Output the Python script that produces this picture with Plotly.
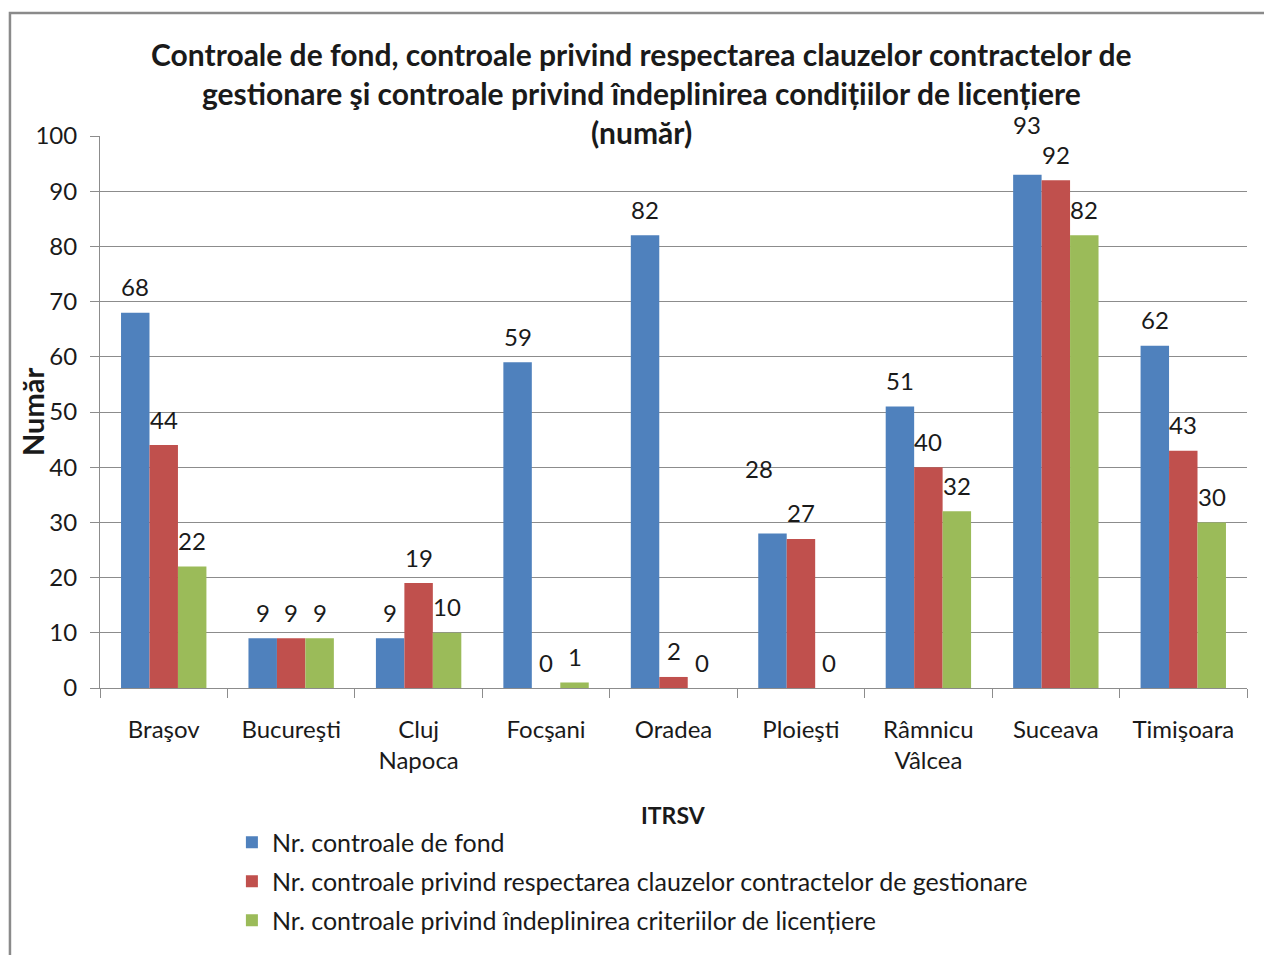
import plotly.graph_objects as go

categories = ["Braşov", "Bucureşti", "Cluj<br>Napoca", "Focşani", "Oradea",
              "Ploieşti", "Râmnicu<br>Vâlcea", "Suceava", "Timişoara"]
fond = [68, 9, 9, 59, 82, 28, 51, 93, 62]
clauze = [44, 9, 19, 0, 2, 27, 40, 92, 43]
licentiere = [22, 9, 10, 1, 0, 0, 32, 82, 30]

names = ["Nr. controale de fond",
         "Nr. controale privind respectarea clauzelor contractelor de gestionare",
         "Nr. controale privind îndeplinirea criteriilor de licențiere"]
colors = ["#4F81BD", "#C0504D", "#9BBB59"]
title_lines = ["Controale de fond, controale privind respectarea clauzelor contractelor de",
               "gestionare şi controale privind îndeplinirea condițiilor de licențiere",
               "(număr)"]

# manual label nudges (series index, category index) -> (dx, dy) in px, as in the original
label_nudge = {(0, 7): (0, 24), (0, 5): (-13, 39)}

FONT = "Lato, 'Open Sans', sans-serif"
TXT = "#1a1a1a"
BAR_W = 1147 / 9 * (1 - 0.33) / 3

fig = go.Figure()
for i, (vals, nm, col) in enumerate(zip([fond, clauze, licentiere], names, colors)):
    fig.add_trace(go.Bar(
        x=categories, y=vals, name=nm, marker_color=col, marker_line_width=0,
        legendgroup="g%d" % i,
    ))
    for j, v in enumerate(vals):
        dx, dy = label_nudge.get((i, j), (0, 0))
        fig.add_annotation(x=categories[j], y=v, text=str(v), showarrow=False,
                           xref="x", yref="y", xanchor="center", yanchor="middle",
                           xshift=(i - 1) * BAR_W + dx, yshift=26 + dy,
                           font=dict(size=24, family=FONT, color=TXT))

fig.update_layout(
    width=1264, height=955,
    margin=dict(l=100, r=17, t=136, b=267),
    paper_bgcolor="white", plot_bgcolor="white",
    barmode="group", bargap=0.33, bargroupgap=0,
    font=dict(family=FONT, color=TXT, size=24),
    showlegend=True,
    legend=dict(x=0.115, y=-0.238, xanchor="left", yanchor="top",
                traceorder="grouped", tracegroupgap=3.5,
                font=dict(size=25, family=FONT, color=TXT),
                bgcolor="rgba(0,0,0,0)"),
)
fig.update_yaxes(range=[0, 100], dtick=10, showgrid=True, gridcolor="#8c8c8c", gridwidth=1,
                 ticks="outside", ticklen=9, tickcolor="#8c8c8c",
                 showline=True, linecolor="#8c8c8c", linewidth=1,
                 ticklabelstandoff=8,
                 tickfont=dict(size=24, family=FONT, color=TXT), zeroline=False)
fig.update_xaxes(tickson="boundaries", ticks="outside", ticklen=9, tickcolor="#8c8c8c",
                 showline=True, linecolor="#8c8c8c", linewidth=1,
                 ticklabelstandoff=20,
                 tickfont=dict(size=24, family=FONT, color=TXT))

ys = [1.1486, 1.0779, 1.0072]
for t, yy in zip(title_lines, ys):
    fig.add_annotation(text="<b>%s</b>" % t, xref="paper", yref="paper", x=0.4725, y=yy,
                       showarrow=False, xanchor="center", yanchor="middle",
                       font=dict(size=30, family=FONT, color=TXT))
fig.add_annotation(text="<b>Număr</b>", xref="paper", yref="paper", x=-0.0593, y=0.5,
                   textangle=-90, showarrow=False, xanchor="center", yanchor="middle",
                   font=dict(size=29, family=FONT, color=TXT))
fig.add_annotation(text="<b>ITRSV</b>", xref="paper", yref="paper", x=0.4996, y=-0.23,
                   showarrow=False, xanchor="center", yanchor="middle",
                   font=dict(size=23, family=FONT, color=TXT))
fig.add_shape(type="rect", xref="paper", yref="paper", x0=-0.0785, y0=-0.6, x1=1.05, y1=1.2228,
              line=dict(color="#8a8a8a", width=2.5), fillcolor="rgba(0,0,0,0)", layer="below")

fig.write_html("out.html", config={"displayModeBar": False},
               post_script="document.body.style.margin='0';document.body.style.overflow='hidden';")
